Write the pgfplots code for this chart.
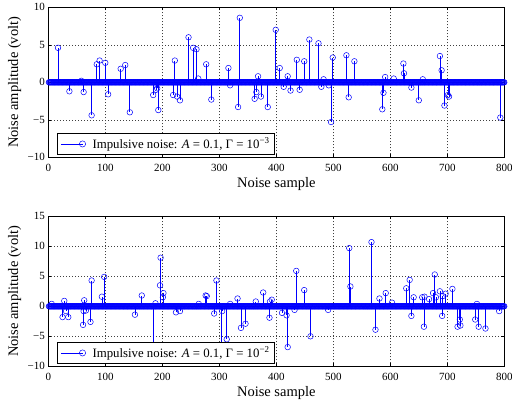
\documentclass[border=0pt]{standalone}
\usepackage{pgfplots}
\pgfplotsset{compat=1.18}
\usepackage{pgfplotstable}
\usepackage{fontspec}
\setmainfont{Liberation Serif}

% 800 background samples (amplitude ~ 0)
\pgfplotstableread[row sep=\\, header=false]{
0\\0\\0\\0\\0\\0\\0\\0\\0\\0\\0\\0\\0\\0\\0\\0\\0\\0\\0\\0\\
0\\0\\0\\0\\0\\0\\0\\0\\0\\0\\0\\0\\0\\0\\0\\0\\0\\0\\0\\0\\
0\\0\\0\\0\\0\\0\\0\\0\\0\\0\\0\\0\\0\\0\\0\\0\\0\\0\\0\\0\\
0\\0\\0\\0\\0\\0\\0\\0\\0\\0\\0\\0\\0\\0\\0\\0\\0\\0\\0\\0\\
0\\0\\0\\0\\0\\0\\0\\0\\0\\0\\0\\0\\0\\0\\0\\0\\0\\0\\0\\0\\
0\\0\\0\\0\\0\\0\\0\\0\\0\\0\\0\\0\\0\\0\\0\\0\\0\\0\\0\\0\\
0\\0\\0\\0\\0\\0\\0\\0\\0\\0\\0\\0\\0\\0\\0\\0\\0\\0\\0\\0\\
0\\0\\0\\0\\0\\0\\0\\0\\0\\0\\0\\0\\0\\0\\0\\0\\0\\0\\0\\0\\
0\\0\\0\\0\\0\\0\\0\\0\\0\\0\\0\\0\\0\\0\\0\\0\\0\\0\\0\\0\\
0\\0\\0\\0\\0\\0\\0\\0\\0\\0\\0\\0\\0\\0\\0\\0\\0\\0\\0\\0\\
0\\0\\0\\0\\0\\0\\0\\0\\0\\0\\0\\0\\0\\0\\0\\0\\0\\0\\0\\0\\
0\\0\\0\\0\\0\\0\\0\\0\\0\\0\\0\\0\\0\\0\\0\\0\\0\\0\\0\\0\\
0\\0\\0\\0\\0\\0\\0\\0\\0\\0\\0\\0\\0\\0\\0\\0\\0\\0\\0\\0\\
0\\0\\0\\0\\0\\0\\0\\0\\0\\0\\0\\0\\0\\0\\0\\0\\0\\0\\0\\0\\
0\\0\\0\\0\\0\\0\\0\\0\\0\\0\\0\\0\\0\\0\\0\\0\\0\\0\\0\\0\\
0\\0\\0\\0\\0\\0\\0\\0\\0\\0\\0\\0\\0\\0\\0\\0\\0\\0\\0\\0\\
0\\0\\0\\0\\0\\0\\0\\0\\0\\0\\0\\0\\0\\0\\0\\0\\0\\0\\0\\0\\
0\\0\\0\\0\\0\\0\\0\\0\\0\\0\\0\\0\\0\\0\\0\\0\\0\\0\\0\\0\\
0\\0\\0\\0\\0\\0\\0\\0\\0\\0\\0\\0\\0\\0\\0\\0\\0\\0\\0\\0\\
0\\0\\0\\0\\0\\0\\0\\0\\0\\0\\0\\0\\0\\0\\0\\0\\0\\0\\0\\0\\
0\\0\\0\\0\\0\\0\\0\\0\\0\\0\\0\\0\\0\\0\\0\\0\\0\\0\\0\\0\\
0\\0\\0\\0\\0\\0\\0\\0\\0\\0\\0\\0\\0\\0\\0\\0\\0\\0\\0\\0\\
0\\0\\0\\0\\0\\0\\0\\0\\0\\0\\0\\0\\0\\0\\0\\0\\0\\0\\0\\0\\
0\\0\\0\\0\\0\\0\\0\\0\\0\\0\\0\\0\\0\\0\\0\\0\\0\\0\\0\\0\\
0\\0\\0\\0\\0\\0\\0\\0\\0\\0\\0\\0\\0\\0\\0\\0\\0\\0\\0\\0\\
0\\0\\0\\0\\0\\0\\0\\0\\0\\0\\0\\0\\0\\0\\0\\0\\0\\0\\0\\0\\
0\\0\\0\\0\\0\\0\\0\\0\\0\\0\\0\\0\\0\\0\\0\\0\\0\\0\\0\\0\\
0\\0\\0\\0\\0\\0\\0\\0\\0\\0\\0\\0\\0\\0\\0\\0\\0\\0\\0\\0\\
0\\0\\0\\0\\0\\0\\0\\0\\0\\0\\0\\0\\0\\0\\0\\0\\0\\0\\0\\0\\
0\\0\\0\\0\\0\\0\\0\\0\\0\\0\\0\\0\\0\\0\\0\\0\\0\\0\\0\\0\\
0\\0\\0\\0\\0\\0\\0\\0\\0\\0\\0\\0\\0\\0\\0\\0\\0\\0\\0\\0\\
0\\0\\0\\0\\0\\0\\0\\0\\0\\0\\0\\0\\0\\0\\0\\0\\0\\0\\0\\0\\
0\\0\\0\\0\\0\\0\\0\\0\\0\\0\\0\\0\\0\\0\\0\\0\\0\\0\\0\\0\\
0\\0\\0\\0\\0\\0\\0\\0\\0\\0\\0\\0\\0\\0\\0\\0\\0\\0\\0\\0\\
0\\0\\0\\0\\0\\0\\0\\0\\0\\0\\0\\0\\0\\0\\0\\0\\0\\0\\0\\0\\
0\\0\\0\\0\\0\\0\\0\\0\\0\\0\\0\\0\\0\\0\\0\\0\\0\\0\\0\\0\\
0\\0\\0\\0\\0\\0\\0\\0\\0\\0\\0\\0\\0\\0\\0\\0\\0\\0\\0\\0\\
0\\0\\0\\0\\0\\0\\0\\0\\0\\0\\0\\0\\0\\0\\0\\0\\0\\0\\0\\0\\
0\\0\\0\\0\\0\\0\\0\\0\\0\\0\\0\\0\\0\\0\\0\\0\\0\\0\\0\\0\\
0\\0\\0\\0\\0\\0\\0\\0\\0\\0\\0\\0\\0\\0\\0\\0\\0\\0\\0\\0\\
}\zeros

\pgfplotsset{
  noiseaxis/.style={
    scale only axis, width=456pt, height=150pt,
    xmin=0, xmax=800,
    xtick={0,100,...,800},
    xticklabels={0,100,200,300,400,500,600,700,800},
    grid=major,
    grid style={black!75, line width=0.4pt, dash pattern=on 1pt off 2pt},
    tick align=inside, major tick length=3pt,
    tick style={black, line width=0.4pt},
    axis line style={black, line width=0.5pt},
    ticklabel style={font=\fontsize{11}{13}\selectfont},
    xticklabel style={yshift=-3pt},
    label style={font=\fontsize{14.5}{17}\selectfont},
    xlabel={Noise sample},
    ylabel={Noise amplitude (volt)},
    xlabel style={at={(axis description cs:0.5,0)}, anchor=base, yshift=-30pt},
    ylabel style={at={(axis description cs:-0.074,0.5)}, anchor=center},
    legend style={at={(0.0197,0.018)}, anchor=south west,
      font=\fontsize{12.8}{14}\selectfont, draw=black, fill=white,
      line width=0.5pt, inner xsep=3pt, inner ysep=2.5pt},
    legend cell align=left,
    legend image code/.code={
      \draw[blue, line width=0.6pt] (0pt,0pt) -- (21.7pt,0pt);
      \draw[blue, line width=0.5pt] (21.7pt,0pt) circle (3.1pt);
      \path (29.4pt,0pt);
    },
  },
  bgmarks/.style={only marks, mark=o, mark size=2.8pt, blue,
    mark options={line width=0.5pt}, forget plot},
  stems/.style={blue, line width=0.7pt, ycomb, mark=o, mark size=2.8pt,
    mark options={line width=0.5pt}},
}

\begin{document}
\begin{tikzpicture}
\begin{axis}[noiseaxis, name=top,
  ymin=-10, ymax=10, ytick={-10,-5,0,5,10},
  yticklabels={−10,−5,0,5,10}]
\addplot[bgmarks] table[x expr=\coordindex+1, y index=0] {\zeros};
\addplot[black, line width=0.6pt, forget plot] coordinates {(0,0) (800,0)};
\addplot[stems] coordinates {
(17,4.6)(37,-1.2)(58,0.2)(62,-1.3)(76,-4.4)(85,2.4)(90,2.9)(100,2.6)(105,-1.6)
(127,1.8)(135,2.3)(143,-4.0)(184,-1.7)(189,-1.0)(191,-0.8)(193,-3.7)(219,-1.7)
(222,2.9)(226,-1.9)(231,-2.4)(246,6.0)(254,4.6)(260,4.4)(263,0.5)(277,2.4)
(286,-2.3)(316,1.9)(319,-0.4)(333,-3.3)(336,8.6)(362,-2.2)(365,-1.3)(368,0.8)
(373,-1.9)(385,-3.3)(399,7.0)(406,1.9)(413,-0.6)(420,0.8)(425,-1.1)(436,3.0)
(441,-1.0)(449,2.8)(458,5.7)(474,5.2)(479,-0.6)(483,0.4)(492,-0.4)(496,-5.3)
(499,3.3)(523,3.6)(527,-2.0)(537,2.8)(586,-3.6)(588,-1.4)(591,0.7)(606,0.5)
(623,2.5)(624,1.2)(637,-0.7)(650,-2.4)(657,0.4)(687,3.5)(690,1.6)(695,-3.1)
(701,-1.7)(703,-1.9)(793,-4.7)
};
\addlegendentry{Impulsive noise: \textit{A}~=~0.1, Γ~=~10\textsuperscript{−3}}
\end{axis}

\begin{axis}[noiseaxis, at={(0,-209pt)},
  ymin=-10, ymax=15, ytick={-10,-5,0,5,10,15},
  yticklabels={−10,−5,0,5,10,15}]
\addplot[bgmarks] table[x expr=\coordindex+1, y index=0] {\zeros};
\addplot[black, line width=0.6pt, forget plot] coordinates {(0,0) (800,0)};
\addplot[stems] coordinates {
(6,0.4)(25,-1.8)(28,0.9)(31,-0.8)(35,-1.8)(61,-3.1)(62,-0.8)(63,1.0)(66,-0.7)
(74,-2.6)(76,4.3)(94,1.6)(98,4.9)(152,-1.4)(164,1.8)(184,-7.0)(188,0.5)
(196,3.5)(197,8.1)(201,1.5)(202,2.2)(224,-1.0)(231,-0.8)(264,0.4)(276,1.8)
(278,1.7)(291,-1.2)(295,4.3)(304,-6.5)(305,-0.8)(313,-5.5)(319,0.4)(332,1.3)
(338,-3.6)(346,-2.9)(364,0.8)(377,2.3)(388,-1.9)(389,0.8)(392,1.1)(410,-1.1)
(418,-1.5)(420,-6.8)(432,-0.6)(435,5.9)(449,2.7)(460,-5.0)(491,-0.6)(528,9.7)
(530,3.3)(567,10.7)(574,-3.9)(581,1.3)(592,2.2)(603,0.6)(628,3.0)(634,4.4)
(637,-1.6)(641,1.5)(656,1.5)(659,-3.4)(660,1.6)(668,1.2)(675,2.2)(678,5.3)
(680,1.5)(687,2.5)(691,-1.6)(692,1.7)(697,2.1)(709,2.9)(718,-3.4)(722,-2.2)
(723,-3.2)(749,-2.2)(752,0.4)(755,-3.4)(767,-3.7)(791,-0.8)
};
\addlegendentry{Impulsive noise: \textit{A}~=~0.1, Γ~=~10\textsuperscript{−2}}
\end{axis}
\pgfresetboundingbox
\path[use as bounding box] (-48.3pt,-244pt) rectangle (463.7pt,157.3pt);
\end{tikzpicture}
\end{document}
